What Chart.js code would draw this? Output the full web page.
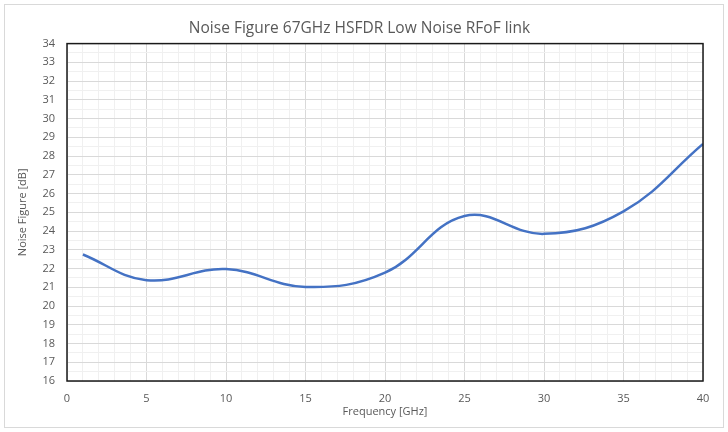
<!DOCTYPE html>
<html>
<head>
<meta charset="utf-8">
<script src="https://cdn.jsdelivr.net/npm/chart.js@4/dist/chart.umd.min.js"></script>
<style>
  html, body { margin: 0; padding: 0; background: #fff; }
  #wrap { width: 728px; height: 432px; position: relative; }
</style>
</head>
<body>
<div id="wrap"><canvas id="graph1" width="728" height="432"></canvas></div>
<script>
// Valores
var freqGHz = [1, 5, 10, 15, 20, 25, 30, 35, 40];
var noiseFigureDb = [22.75, 21.38, 21.97, 21.02, 21.78, 24.8, 23.85, 25.05, 28.65];

var chartTitle = 'Noise Figure 67GHz HSFDR Low Noise RFoF link';
var xTitle = 'Frequency [GHz]';
var yTitle = 'Noise Figure [dB]';

// Moldura da área do gráfico e borda externa
var frame = {
    id: 'frame',
    afterDraw: function (chart) {
        var a = chart.chartArea, ctx = chart.ctx;
        ctx.save();
        ctx.strokeStyle = '#d9d9d9';
        ctx.lineWidth = 1;
        ctx.strokeRect(4.5, 4.5, chart.width - 9, chart.height - 9);
        ctx.strokeStyle = '#1a1a1a';
        ctx.lineWidth = 1.5;
        ctx.strokeRect(a.left, a.top, a.right - a.left, a.bottom - a.top);
        ctx.restore();
    }
};

var ctx = document.getElementById('graph1').getContext('2d');
new Chart(ctx, {
    type: 'scatter',
    data: {
        datasets: [{
            data: freqGHz.map(function (f, i) { return { x: f, y: noiseFigureDb[i] }; }),
            borderColor: '#4472C4',
            backgroundColor: '#4472C4',
            borderWidth: 2.5,
            pointRadius: 0,
            showLine: true,
            tension: 0.4
        }]
    },
    options: {
        responsive: false,
        animation: false,
        layout: { padding: { left: 16, right: 25, top: 0, bottom: 14 } },
        plugins: {
            legend: { display: false },
            tooltip: { enabled: false },
            title: {
                display: true,
                text: chartTitle,
                color: '#595959',
                font: { family: 'Open Sans', size: 15.5, weight: 'normal' },
                padding: { top: 19, bottom: 6 }
            }
        },
        scales: {
            x: {
                type: 'linear',
                min: 0, max: 40,
                afterFit: function (s) { s.height = 37; },
                ticks: {
                    stepSize: 1,
                    autoSkip: false,
                    maxRotation: 0,
                    color: '#595959',
                    font: { family: 'Open Sans', size: 11 },
                    padding: 11,
                    callback: function (v) { return v % 5 === 0 ? v : ''; }
                },
                grid: {
                    drawTicks: false,
                    color: function (c) { return c.tick.value % 5 === 0 ? '#d9d9d9' : '#f0f0f0'; }
                },
                border: { display: false },
                title: {
                    display: true, text: xTitle, color: '#595959',
                    font: { family: 'Open Sans', size: 11 }, padding: { top: 0, bottom: 0 }
                }
            },
            y: {
                min: 16, max: 34,
                afterFit: function (s) { s.width = 51; },
                ticks: {
                    stepSize: 0.5,
                    autoSkip: false,
                    color: '#595959',
                    font: { family: 'Open Sans', size: 11 },
                    padding: 12,
                    callback: function (v) { return Number.isInteger(v) ? v : ''; }
                },
                grid: {
                    drawTicks: false,
                    color: function (c) { return Number.isInteger(c.tick.value) ? '#d9d9d9' : '#f0f0f0'; }
                },
                border: { display: false },
                title: {
                    display: true, text: yTitle, color: '#595959',
                    font: { family: 'Open Sans', size: 11 }, padding: { top: 0, bottom: 4 }
                }
            }
        }
    },
    plugins: [frame]
});
</script>
</body>
</html>
